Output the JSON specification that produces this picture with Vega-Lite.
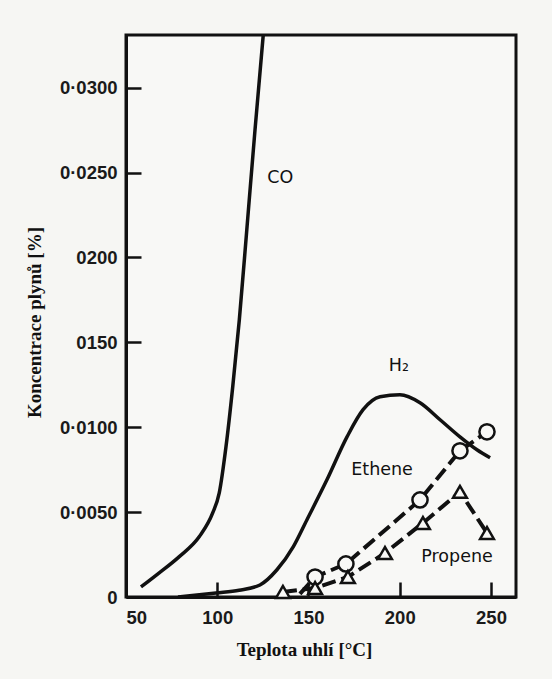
{
  "$schema": "https://vega.github.io/schema/vega-lite/v6.json",
  "width": 390,
  "height": 562,
  "autosize": {"type": "none"},
  "padding": {"left": 126, "top": 35, "right": 36, "bottom": 82},
  "background": "#f6f6f3",
  "config": {
    "view": {"stroke": "#111111", "strokeWidth": 3, "fill": "#f8f8f6"},
    "axis": {
      "domainColor": "#111111",
      "domainWidth": 3,
      "tickColor": "#111111",
      "tickWidth": 2.5,
      "tickSize": -15,
      "grid": false,
      "labelFont": "Liberation Sans",
      "labelFontWeight": "bold",
      "labelFontSize": 18.5,
      "labelColor": "#1a1a1a",
      "titleFont": "Liberation Serif",
      "titleFontWeight": "bold",
      "titleFontSize": 19,
      "titleColor": "#111111"
    }
  },
  "datasets": {
    "curves": [
      {"series": "CO", "t": 58.2, "c": 0.00059, "marker": false},
      {"series": "CO", "t": 68.2, "c": 0.00142, "marker": false},
      {"series": "CO", "t": 79.2, "c": 0.00238, "marker": false},
      {"series": "CO", "t": 90.2, "c": 0.00356, "marker": false},
      {"series": "CO", "t": 97.5, "c": 0.00495, "marker": false},
      {"series": "CO", "t": 101.1, "c": 0.00613, "marker": false},
      {"series": "CO", "t": 104.8, "c": 0.00886, "marker": false},
      {"series": "CO", "t": 108.5, "c": 0.0124, "marker": false},
      {"series": "CO", "t": 112.1, "c": 0.01633, "marker": false},
      {"series": "CO", "t": 116.2, "c": 0.02164, "marker": false},
      {"series": "CO", "t": 120.7, "c": 0.02753, "marker": false},
      {"series": "CO", "t": 125.2, "c": 0.0331, "marker": false},
      {"series": "H2", "t": 78.5, "c": 0.0, "marker": false},
      {"series": "H2", "t": 99.3, "c": 0.00024, "marker": false},
      {"series": "H2", "t": 112.0, "c": 0.00040, "marker": false},
      {"series": "H2", "t": 123.4, "c": 0.00071, "marker": false},
      {"series": "H2", "t": 132.6, "c": 0.00159, "marker": false},
      {"series": "H2", "t": 141.7, "c": 0.00297, "marker": false},
      {"series": "H2", "t": 149.1, "c": 0.00454, "marker": false},
      {"series": "H2", "t": 160.1, "c": 0.0069, "marker": false},
      {"series": "H2", "t": 171.1, "c": 0.00943, "marker": false},
      {"series": "H2", "t": 179.9, "c": 0.01103, "marker": false},
      {"series": "H2", "t": 189.2, "c": 0.01179, "marker": false},
      {"series": "H2", "t": 200.1, "c": 0.01191, "marker": false},
      {"series": "H2", "t": 211.1, "c": 0.01144, "marker": false},
      {"series": "H2", "t": 222.1, "c": 0.01044, "marker": false},
      {"series": "H2", "t": 233.0, "c": 0.00943, "marker": false},
      {"series": "H2", "t": 242.3, "c": 0.00867, "marker": false},
      {"series": "H2", "t": 249.5, "c": 0.0082, "marker": false},
      {"series": "Ethene", "t": 145.3, "c": 0.00018, "marker": false},
      {"series": "Ethene", "t": 153.6, "c": 0.00118, "marker": true},
      {"series": "Ethene", "t": 170.5, "c": 0.00195, "marker": true},
      {"series": "Ethene", "t": 211.1, "c": 0.00572, "marker": true},
      {"series": "Ethene", "t": 233.0, "c": 0.00861, "marker": true},
      {"series": "Ethene", "t": 247.8, "c": 0.00973, "marker": true},
      {"series": "Propene", "t": 136.0, "c": 0.0003, "marker": true},
      {"series": "Propene", "t": 153.6, "c": 0.00053, "marker": true},
      {"series": "Propene", "t": 171.6, "c": 0.00118, "marker": true},
      {"series": "Propene", "t": 191.9, "c": 0.00259, "marker": true},
      {"series": "Propene", "t": 212.7, "c": 0.00436, "marker": true},
      {"series": "Propene", "t": 233.0, "c": 0.00619, "marker": true},
      {"series": "Propene", "t": 247.8, "c": 0.00377, "marker": true}
    ],
    "labels": [
      {"label": "CO", "t": 134.5, "c": 0.0247},
      {"label": "H₂", "t": 199.5, "c": 0.0136},
      {"label": "Ethene", "t": 190.3, "c": 0.00749},
      {"label": "Propene", "t": 231.4, "c": 0.00236}
    ]
  },
  "layer": [
    {
      "data": {"name": "curves"},
      "transform": [{"filter": "datum.series === 'CO' || datum.series === 'H2'"}],
      "mark": {"type": "line", "interpolate": "monotone", "stroke": "#111111", "strokeWidth": 3.5, "clip": true},
      "encoding": {
        "x": {
          "field": "t", "type": "quantitative",
          "scale": {"domain": [50, 263.7], "nice": false, "zero": false},
          "axis": {
            "values": [50, 100, 150, 200, 250],
            "labelFlush": true,
            "labelPadding": 26,
            "title": "Teplota uhlí [°C]",
            "titleX": 178,
            "titleY": 43,
            "titleBaseline": "top"
          }
        },
        "y": {
          "field": "c", "type": "quantitative",
          "scale": {"domain": [0, 0.0331], "nice": false},
          "axis": {
            "values": [0, 0.005, 0.01, 0.015, 0.02, 0.025, 0.03],
            "labelExpr": "datum.value == 0 ? '0' : (datum.value > 0.0149 && datum.value < 0.0201) ? format(round(datum.value * 10000), '04d') : '0·' + format(round(datum.value * 10000), '04d')",
            "labelPadding": 24,
            "title": "Koncentrace plynů [%]",
            "titleAngle": -90,
            "titleX": -92,
            "titleY": 287,
            "titleAlign": "center",
            "titleBaseline": "middle"
          }
        },
        "detail": {"field": "series"}
      }
    },
    {
      "data": {"name": "curves"},
      "transform": [{"filter": "datum.series === 'Ethene' || datum.series === 'Propene'"}],
      "mark": {"type": "line", "stroke": "#111111", "strokeWidth": 4, "strokeDash": [14, 6]},
      "encoding": {
        "x": {"field": "t", "type": "quantitative"},
        "y": {"field": "c", "type": "quantitative"},
        "detail": {"field": "series"}
      }
    },
    {
      "data": {"name": "curves"},
      "transform": [{"filter": "datum.marker"}],
      "mark": {"type": "point", "filled": false, "fill": "#f8f8f6", "fillOpacity": 1, "stroke": "#111111", "strokeWidth": 2.5, "opacity": 1},
      "encoding": {
        "x": {"field": "t", "type": "quantitative"},
        "y": {"field": "c", "type": "quantitative"},
        "shape": {
          "field": "series", "type": "nominal",
          "scale": {"domain": ["Ethene", "Propene"], "range": ["circle", "triangle-up"]},
          "legend": null
        },
        "size": {
          "field": "series", "type": "nominal",
          "scale": {"domain": ["Ethene", "Propene"], "range": [230, 190]},
          "legend": null
        }
      }
    },
    {
      "data": {"name": "labels"},
      "mark": {"type": "text", "font": "DejaVu Sans", "fontSize": 17.5, "fill": "#111111", "align": "center", "baseline": "middle"},
      "encoding": {
        "x": {"field": "t", "type": "quantitative"},
        "y": {"field": "c", "type": "quantitative"},
        "text": {"field": "label"}
      }
    }
  ]
}
